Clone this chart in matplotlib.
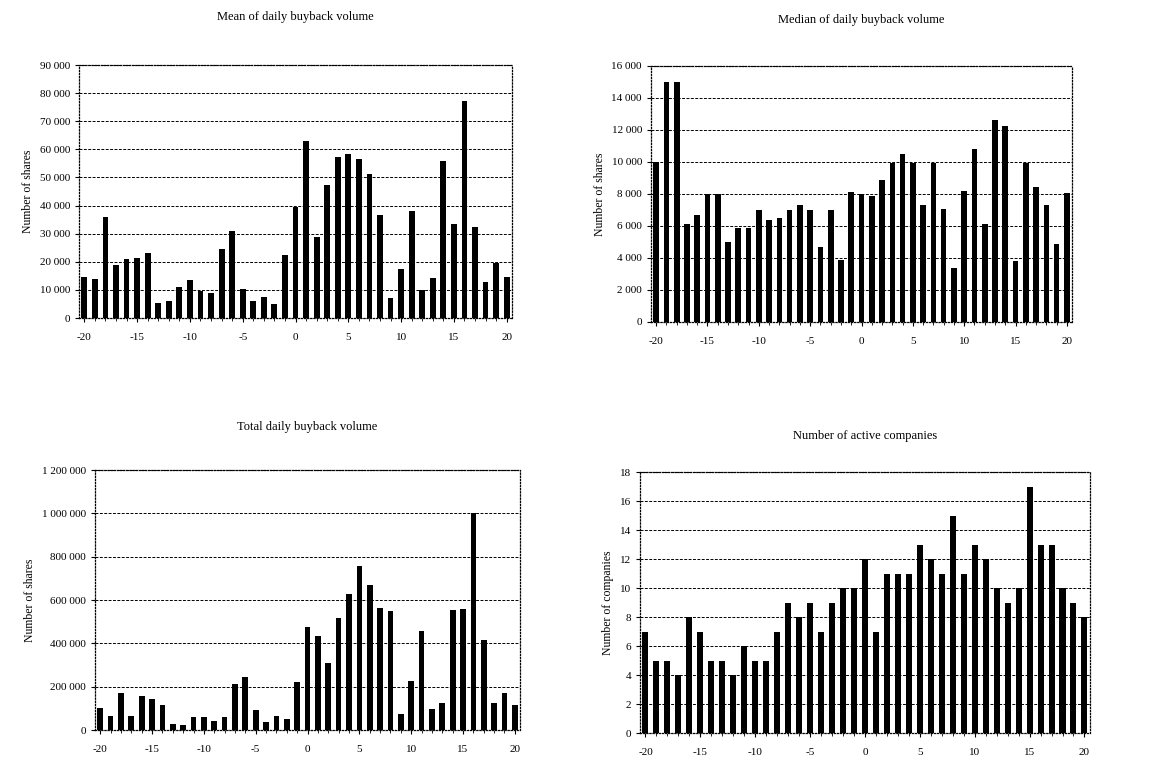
import matplotlib
matplotlib.use("Agg")
import matplotlib.pyplot as plt
from matplotlib.ticker import FuncFormatter, MultipleLocator

plt.rcParams['font.family'] = ['Liberation Serif', 'DejaVu Serif']
plt.rcParams['axes.unicode_minus'] = False

days = list(range(-20, 21))

mean_volume = [14500, 14000, 35800, 18700, 21000, 21300, 23200, 5500, 6000, 10900,
               13600, 9600, 8800, 24500, 30900, 10400, 6000, 7500, 5000, 22300,
               39500, 62800, 28800, 47300, 57300, 58200, 56400, 51300, 36800, 7000,
               17500, 38200, 10000, 14100, 55900, 33300, 77300, 32200, 12800, 19500,
               14500]

median_volume = [10000, 15000, 15000, 6100, 6700, 8000, 8000, 5000, 5900, 5900,
                 7000, 6400, 6500, 7000, 7300, 7000, 4700, 7000, 3900, 8100,
                 8000, 7900, 8850, 9950, 10500, 9950, 7300, 9950, 7050, 3400,
                 8200, 10800, 6100, 12600, 12250, 3800, 9950, 8450, 7300, 4850,
                 8060]

total_volume = [101000, 66000, 172000, 65000, 158000, 143000, 114000, 26000, 23000, 60000,
                60000, 42000, 60000, 214000, 243000, 94000, 37000, 66000, 49000, 222000,
                474000, 432000, 309000, 515000, 628000, 757000, 669000, 562000, 551000, 75000,
                226000, 457000, 97000, 125000, 554000, 557000, 1000000, 414000, 126000, 171000,
                114000]

active_companies = [7, 5, 5, 4, 8, 7, 5, 5, 4, 6,
                    5, 5, 7, 9, 8, 9, 7, 9, 10, 10,
                    12, 7, 11, 11, 11, 13, 12, 11, 15, 11,
                    13, 12, 10, 9, 10, 17, 13, 13, 10, 9,
                    8]

titles = ["Mean of daily buyback volume", "Median of daily buyback volume",
          "Total daily buyback volume", "Number of active companies"]
ylabels = ["Number of shares", "Number of shares", "Number of shares", "Number of companies"]
ymax = [90000, 16000, 1200000, 18]
ystep = [10000, 2000, 200000, 2]
series = [mean_volume, median_volume, total_volume, active_companies]

# axes rectangles (left, bottom, width, height) in figure fraction
rects = [(0.0688, 0.5832, 0.3768, 0.3316),
         (0.5666, 0.5780, 0.3664, 0.3355),
         (0.0827, 0.0432, 0.3699, 0.3408),
         (0.5570, 0.0393, 0.3916, 0.3420)]
title_y = [0.978, 0.974, 0.44, 0.428]

fig = plt.figure(figsize=(11.49, 7.63), dpi=100)

def thousands(v, pos):
    return "{:,}".format(int(round(v))).replace(",", " ")

for i in range(4):
    ax = fig.add_axes(rects[i])
    ax.bar(days, series[i], width=0.55, color='black', zorder=3)
    ax.set_xlim(-20.5, 20.5)
    ax.set_ylim(0, ymax[i])
    ax.yaxis.set_major_locator(MultipleLocator(ystep[i]))
    ax.yaxis.set_major_formatter(FuncFormatter(thousands))
    ax.xaxis.set_major_locator(MultipleLocator(5))
    ax.xaxis.set_minor_locator(MultipleLocator(1))
    ax.grid(axis='y', color='black', linewidth=0.7, linestyle=(0, (3, 1.5)), zorder=1)
    for s in ax.spines.values():
        s.set_linestyle((0, (1, 1.5)))
        s.set_linewidth(0.9)
    ax.tick_params(axis='both', labelsize=8, length=3, width=0.8, direction='out')
    ax.tick_params(axis='x', which='minor', length=2)
    ax.tick_params(axis='x', pad=8)
    ax.set_ylabel(ylabels[i], fontsize=8.5)
    cx = rects[i][0] + rects[i][2] / 2
    fig.text(cx, title_y[i], titles[i], ha='center', va='center', fontsize=9)

fig.savefig("out.png", dpi=100, facecolor='white')
